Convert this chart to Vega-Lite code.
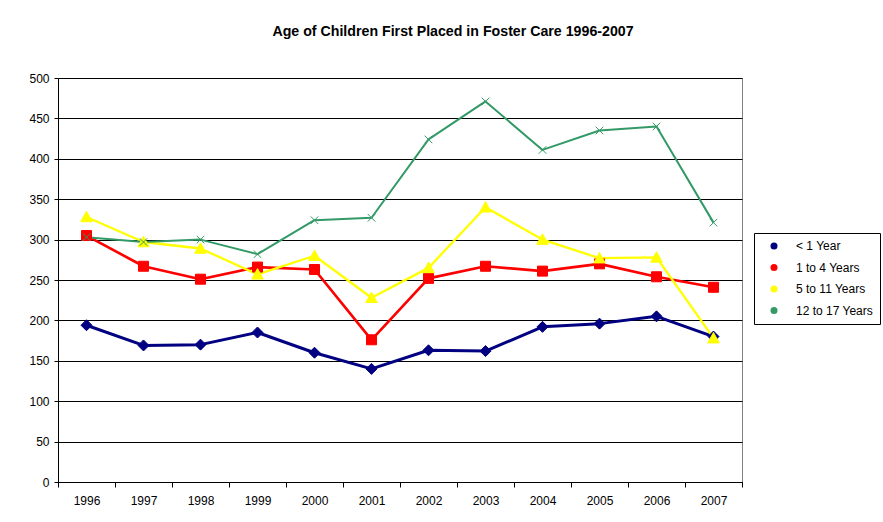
{
  "$schema": "https://vega.github.io/schema/vega-lite/v6.json",
  "width": 684,
  "height": 404,
  "autosize": "none",
  "padding": {"left": 58, "top": 78, "right": 141, "bottom": 40},
  "background": "white",
  "title": {
    "text": "Age of Children First Placed in Foster Care 1996-2007",
    "font": "Liberation Sans",
    "fontSize": 14.2,
    "fontWeight": "bold",
    "color": "#000000",
    "anchor": "middle",
    "frame": "group",
    "dx": 53,
    "offset": 33
  },
  "config": {
    "view": {"stroke": "#808080", "strokeWidth": 1},
    "axis": {
      "labelFont": "Liberation Sans",
      "labelFontSize": 12,
      "labelColor": "#000000",
      "domainColor": "#000000",
      "tickColor": "#000000",
      "title": null
    }
  },
  "data": {
    "values": [
      {"year": "1996", "series": "< 1 Year", "value": 194},
      {"year": "1997", "series": "< 1 Year", "value": 169},
      {"year": "1998", "series": "< 1 Year", "value": 170},
      {"year": "1999", "series": "< 1 Year", "value": 185},
      {"year": "2000", "series": "< 1 Year", "value": 160},
      {"year": "2001", "series": "< 1 Year", "value": 140},
      {"year": "2002", "series": "< 1 Year", "value": 163},
      {"year": "2003", "series": "< 1 Year", "value": 162},
      {"year": "2004", "series": "< 1 Year", "value": 192},
      {"year": "2005", "series": "< 1 Year", "value": 196},
      {"year": "2006", "series": "< 1 Year", "value": 205},
      {"year": "2007", "series": "< 1 Year", "value": 180},
      {"year": "1996", "series": "1 to 4 Years", "value": 305},
      {"year": "1997", "series": "1 to 4 Years", "value": 267},
      {"year": "1998", "series": "1 to 4 Years", "value": 251},
      {"year": "1999", "series": "1 to 4 Years", "value": 266},
      {"year": "2000", "series": "1 to 4 Years", "value": 263},
      {"year": "2001", "series": "1 to 4 Years", "value": 176},
      {"year": "2002", "series": "1 to 4 Years", "value": 252},
      {"year": "2003", "series": "1 to 4 Years", "value": 267},
      {"year": "2004", "series": "1 to 4 Years", "value": 261},
      {"year": "2005", "series": "1 to 4 Years", "value": 270},
      {"year": "2006", "series": "1 to 4 Years", "value": 254},
      {"year": "2007", "series": "1 to 4 Years", "value": 241},
      {"year": "1996", "series": "5 to 11 Years", "value": 328},
      {"year": "1997", "series": "5 to 11 Years", "value": 297},
      {"year": "1998", "series": "5 to 11 Years", "value": 289},
      {"year": "1999", "series": "5 to 11 Years", "value": 257},
      {"year": "2000", "series": "5 to 11 Years", "value": 280},
      {"year": "2001", "series": "5 to 11 Years", "value": 228},
      {"year": "2002", "series": "5 to 11 Years", "value": 265},
      {"year": "2003", "series": "5 to 11 Years", "value": 340},
      {"year": "2004", "series": "5 to 11 Years", "value": 300},
      {"year": "2005", "series": "5 to 11 Years", "value": 277},
      {"year": "2006", "series": "5 to 11 Years", "value": 278},
      {"year": "2007", "series": "5 to 11 Years", "value": 178},
      {"year": "1996", "series": "12 to 17 Years", "value": 303},
      {"year": "1997", "series": "12 to 17 Years", "value": 297},
      {"year": "1998", "series": "12 to 17 Years", "value": 300},
      {"year": "1999", "series": "12 to 17 Years", "value": 282},
      {"year": "2000", "series": "12 to 17 Years", "value": 324},
      {"year": "2001", "series": "12 to 17 Years", "value": 327},
      {"year": "2002", "series": "12 to 17 Years", "value": 424},
      {"year": "2003", "series": "12 to 17 Years", "value": 471},
      {"year": "2004", "series": "12 to 17 Years", "value": 411},
      {"year": "2005", "series": "12 to 17 Years", "value": 435},
      {"year": "2006", "series": "12 to 17 Years", "value": 440},
      {"year": "2007", "series": "12 to 17 Years", "value": 321}
    ]
  },
  "encoding": {
    "x": {
      "field": "year",
      "type": "ordinal",
      "scale": {"type": "band", "paddingInner": 0, "paddingOuter": 0},
      "axis": {
        "labelAngle": 0,
        "tickBand": "extent",
        "tickSize": 5,
        "labelPadding": 8,
        "grid": false,
        "domainWidth": 1
      }
    },
    "y": {
      "field": "value",
      "type": "quantitative",
      "scale": {"domain": [0, 500], "nice": false},
      "axis": {
        "values": [0, 50, 100, 150, 200, 250, 300, 350, 400, 450, 500],
        "tickSize": 4,
        "labelPadding": 5,
        "grid": true,
        "gridColor": "#000000",
        "gridWidth": 1,
        "gridOpacity": 1
      }
    }
  },
  "layer": [
    {
      "mark": {"type": "line", "strokeJoin": "round"},
      "encoding": {
        "stroke": {
          "field": "series",
          "type": "nominal",
          "scale": {
            "domain": ["< 1 Year", "1 to 4 Years", "5 to 11 Years", "12 to 17 Years"],
            "range": ["#000080", "#FF0000", "#FFFF00", "#339966"]
          },
          "legend": {"disable": true, "orient": "left"}
        },
        "strokeWidth": {
          "field": "series",
          "type": "ordinal",
          "scale": {
            "domain": ["< 1 Year", "1 to 4 Years", "5 to 11 Years", "12 to 17 Years"],
            "range": [3, 2, 2, 2]
          },
          "legend": {"disable": true, "orient": "left"}
        }
      }
    },
    {
      "mark": {"type": "point", "filled": true, "size": 100, "strokeWidth": 1, "opacity": 1},
      "encoding": {
        "color": {
          "field": "series",
          "type": "nominal",
          "scale": {
            "domain": ["< 1 Year", "1 to 4 Years", "5 to 11 Years", "12 to 17 Years"],
            "range": ["#000080", "#FF0000", "#FFFF00", "#339966"]
          },
          "legend": {
            "title": null,
            "orient": "none",
            "legendX": 696,
            "legendY": 155,
            "strokeColor": "#000000",
            "fillColor": "#ffffff",
            "padding": 7,
            "labelFont": "Liberation Sans",
            "labelFontSize": 12,
            "labelColor": "#000000",
            "symbolSize": 49,
            "symbolOffset": 7,
            "labelOffset": 16,
            "rowPadding": 9.5,
            "encode": {
              "symbols": {
                "shape": {"value": {"expr": "datum.value === '< 1 Year' ? 'M-4.9,0H4.9M0,-1.2L1.2,0L0,1.2L-1.2,0Z' : datum.value === '1 to 4 Years' ? 'M-4.9,0H4.9M-1,-1H1V1H-1Z' : datum.value === '5 to 11 Years' ? 'M-4.9,0H4.9M0,-1.2L1.2,1L-1.2,1Z' : 'M-4.9,0H4.9M-0.85,-0.85L0.85,0.85M-0.85,0.85L0.85,-0.85'"}},
                "stroke": {"value": {"expr": "scale('color', datum.value)"}},
                "strokeWidth": {"value": {"expr": "datum.value === '< 1 Year' ? 3 : 2"}},
                "opacity": {"value": 1}
              }
            }
          }
        },
        "stroke": {
          "field": "series",
          "type": "nominal",
          "legend": {"disable": true, "orient": "left"}
        },
        "shape": {
          "field": "series",
          "type": "nominal",
          "scale": {
            "domain": ["< 1 Year", "1 to 4 Years", "5 to 11 Years", "12 to 17 Years"],
            "range": ["M0,-1.1L1.1,0L0,1.1L-1.1,0Z", "M-1,-1H1V1H-1Z", "M0,-1.15L1.15,0.95L-1.15,0.95Z", "M-0.75,-0.75L0.75,0.75M-0.75,0.75L0.75,-0.75"]
          },
          "legend": {"disable": true, "orient": "left"}
        }
      }
    }
  ]
}
